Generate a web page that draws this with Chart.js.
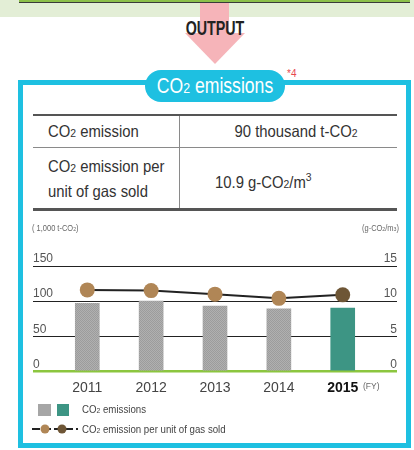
<!DOCTYPE html>
<html>
<head>
<meta charset="utf-8">
<script src="https://cdn.jsdelivr.net/npm/chart.js@4.4.1/dist/chart.umd.min.js"></script>
<style>
  body { margin: 0; width: 414px; height: 450px; position: relative; overflow: hidden; background: #fff;
         font-family: "Liberation Sans", Arial, sans-serif; color: #333; }
  .abs { position: absolute; white-space: nowrap; }
  .s { font-size: 70%; }
  /* condensed look: squeeze text horizontally */
  .nar { transform: scaleX(0.88); transform-origin: 0 0; }
  .narc { transform: scaleX(0.9); transform-origin: 50% 0; }
  #band { left: 0; top: 0; width: 414px; height: 17px; background: #e3eed6; }
  #strip { left: 19px; top: 0; width: 391px; height: 2px; background: #8cc04a; border-bottom: 1px solid #3a3a3a; }
  #shaft { left: 200px; top: 3px; width: 29px; height: 31px; background: #f6b4b9; }
  #head { left: 185px; top: 33px; width: 0; height: 0; border-left: 30px solid transparent;
          border-right: 30px solid transparent; border-top: 31px solid #f6b4b9; }
  #output { left: 135px; width: 160px; top: 16px; text-align: center; font-weight: bold; font-size: 21px;
            color: #222; transform: scaleX(0.68); transform-origin: 50% 0; }
  #frame { left: 18px; top: 80px; width: 393px; height: 368px; box-sizing: border-box; border: 5px solid #1ec0e1; }
  #pill { left: 145px; top: 70px; width: 140px; height: 32px; border-radius: 16px; background: #1ec0e1; }
  #pillText { left: 115px; top: 70px; width: 200px; color: #fff; font-size: 22px; line-height: 32px;
              text-align: center; transform: scaleX(0.8); transform-origin: 50% 0; }
  #note { left: 287px; top: 68px; font-size: 10px; color: #e8474f; }
  .hl { background: #555; }
  .td { font-size: 16.5px; color: #333; }
  .td.nar { transform: scaleX(0.9); }
  .ax { font-size: 8.5px; color: #666; }
  .lg { font-size: 11px; color: #444; }
</style>
</head>
<body>
<div class="abs" id="band"></div>
<div class="abs" id="strip"></div>
<div class="abs" id="shaft"></div>
<div class="abs" id="head"></div>
<div class="abs" id="output">OUTPUT</div>

<div class="abs" id="frame"></div>
<div class="abs" id="pill"></div>
<div class="abs" id="pillText">CO<span class="s">2</span> emissions</div>
<div class="abs" id="note">*4</div>

<!-- summary table -->
<div class="abs hl" style="left:33px;top:114px;width:364px;height:2px;"></div>
<div class="abs" style="left:33px;top:147px;width:364px;height:1px;background:#8a8a8a;"></div>
<div class="abs hl" style="left:33px;top:208px;width:364px;height:3px;"></div>
<div class="abs" style="left:179px;top:116px;width:1px;height:92px;background:#8a8a8a;"></div>
<div class="abs td nar" style="left:48px;top:122px;">CO<span class="s">2</span> emission</div>
<div class="abs td narc" style="left:180px;width:232px;top:122px;text-align:center;">90 thousand t-CO<span class="s">2</span></div>
<div class="abs td nar" style="left:48px;top:155px;line-height:23px;">CO<span class="s">2</span> emission per<br>unit of gas sold</div>
<div class="abs td nar" style="left:215px;top:171px;">10.9 g-CO<span class="s">2</span>/m<sup class="s">3</sup></div>

<canvas id="co2Chart" class="abs" style="left:0;top:220px;" width="414" height="185"></canvas>

<div class="abs ax nar" style="left:32px;top:223px;">( 1,000 t-CO<span class="s">2</span>)</div>
<div class="abs ax nar" style="left:362px;top:223px;">(g-CO<span class="s">2</span>/m<span class="s">3</span>)</div>
<div class="abs ax" style="left:363px;top:381px;">(FY)</div>

<!-- legend -->
<div class="abs" style="left:38px;top:404px;width:13px;height:12px;background:#a6a6a6;"></div>
<div class="abs" style="left:57px;top:404px;width:12px;height:12px;background:#3d9584;"></div>
<div class="abs lg nar" style="left:82px;top:403px;">CO<span class="s">2</span> emissions</div>
<svg class="abs" style="left:30px;top:422px;" width="50" height="14">
  <line x1="2" y1="7" x2="48" y2="7" stroke="#222" stroke-width="2" stroke-dasharray="8,3"/>
  <circle cx="15" cy="7" r="4.5" fill="#b08656"/>
  <circle cx="32" cy="7" r="4.5" fill="#6e5636"/>
</svg>
<div class="abs lg nar" style="left:82px;top:423px;">CO<span class="s">2</span> emission per unit of gas sold</div>

<script>
// fiscal years and values
const years = ['2011', '2012', '2013', '2014', '2015'];
const emissions = [97, 100, 93, 89, 90];          // 1,000 t-CO2
const intensity = [11.6, 11.5, 11.0, 10.4, 10.9]; // g-CO2/m3
const barColors = ['grey', 'grey', 'grey', 'grey', '#3d9584'];
const pointColors = ['#b08656', '#b08656', '#b08656', '#b08656', '#6e5636'];
const leftTicks = [0, 50, 100, 150];
const rightTicks = [0, 5, 10, 15];

const tickFont = '"Liberation Sans", Arial, sans-serif';

// dotted grey fill for the past years
function greyPattern() {
    const c = document.createElement('canvas');
    c.width = 2; c.height = 2;
    const g = c.getContext('2d');
    g.fillStyle = '#b0b0b0';
    g.fillRect(0, 0, 2, 2);
    g.fillStyle = '#9c9c9c';
    g.fillRect(0, 0, 1, 1);
    g.fillRect(1, 1, 1, 1);
    return g.createPattern(c, 'repeat');
}
const grey = greyPattern();

const ctx = document.getElementById('co2Chart').getContext('2d');
const co2Chart = new Chart(ctx, {
    type: 'bar',
    data: {
        datasets: [{
            type: 'line',
            label: 'CO2 emission per unit of gas sold',
            data: years.map((y, i) => ({ x: i, y: intensity[i] })),
            yAxisID: 'y2',
            borderColor: '#222',
            borderWidth: 2,
            pointRadius: 7.5,
            pointBorderWidth: 0,
            pointBackgroundColor: pointColors,
            order: 0
        }, {
            label: 'CO2 emissions',
            data: years.map((y, i) => ({ x: i, y: emissions[i] })),
            yAxisID: 'y',
            backgroundColor: barColors.map(c => c === 'grey' ? grey : c),
            barThickness: 24,
            order: 1
        }]
    },
    options: {
        responsive: false,
        animation: false,
        layout: { padding: { left: 33, right: 17, top: 46, bottom: 3.5 } },
        plugins: { legend: { display: false }, tooltip: { enabled: false } },
        scales: {
            x: {
                type: 'linear',
                offset: false,
                min: -0.85,
                max: 4.85,
                afterBuildTicks: s => { s.ticks = years.map((y, i) => ({ value: i })); },
                afterFit: s => { s.height = 30; },
                grid: { display: false },
                border: { display: false },
                ticks: {
                    padding: 0,
                    autoSkip: false,
                    maxRotation: 0,
                    callback: v => years[v],
                    color: c => c.index === 4 ? '#111' : '#444',
                    font: c => ({ family: tickFont, size: 14, weight: c.index === 4 ? 'bold' : 'normal' })
                }
            },
            y: {
                position: 'left',
                min: 0,
                max: 150,
                afterBuildTicks: s => { s.ticks = leftTicks.map(v => ({ value: v })); },
                afterFit: s => { s.width = 0; },
                border: { display: false },
                grid: {
                    drawTicks: false,
                    color: c => c.tick.value === 0 ? '#8cc63f' : '#222',
                    lineWidth: c => c.tick.value === 0 ? 2.5 : 1
                },
                ticks: {
                    mirror: true,
                    padding: 0,
                    labelOffset: -7,
                    color: '#555',
                    font: { family: tickFont, size: 12 }
                }
            },
            y2: {
                position: 'right',
                min: 0,
                max: 15,
                afterBuildTicks: s => { s.ticks = rightTicks.map(v => ({ value: v })); },
                afterFit: s => { s.width = 0; },
                border: { display: false },
                grid: { display: false, drawTicks: false },
                ticks: {
                    mirror: true,
                    padding: 0,
                    labelOffset: -7,
                    color: '#555',
                    font: { family: tickFont, size: 12 }
                }
            }
        }
    }
});
</script>
</body>
</html>
